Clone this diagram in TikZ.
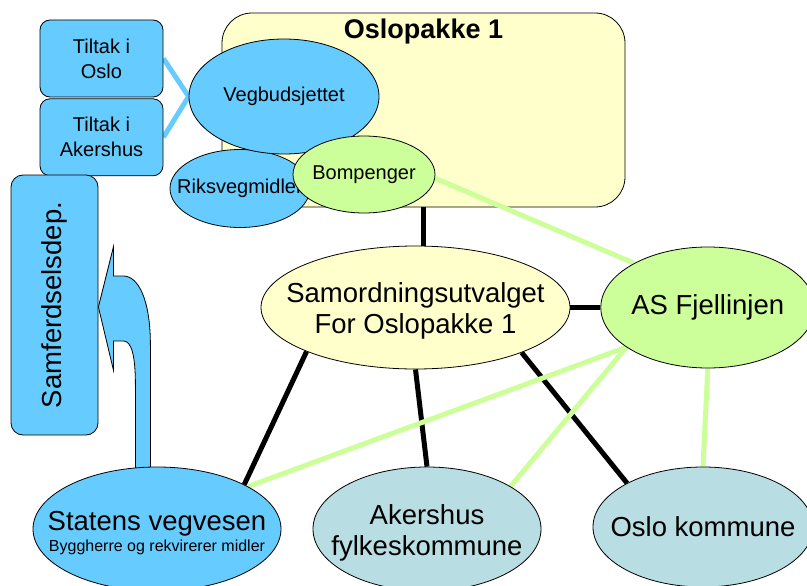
\documentclass[tikz,border=0pt]{standalone}
\usepackage{fontspec}
\setmainfont{Liberation Sans}
\usepackage{tikz}
\usetikzlibrary{positioning,shapes.geometric}

\definecolor{skyblue}{HTML}{66CCFF}
\definecolor{paleyellow}{HTML}{FFFFCC}
\definecolor{palegreen}{HTML}{CCFF99}
\definecolor{paleteal}{HTML}{B8DEE3}

\newcommand{\bigtxt}{\fontsize{27.5}{31}\selectfont}
\newcommand{\midtxt}{\fontsize{20}{25}\selectfont}
\newcommand{\smalltxt}{\fontsize{16}{19}\selectfont}

\pgfdeclarelayer{bg}
\pgfdeclarelayer{edges}
\pgfsetlayers{bg,edges,main}

\begin{document}
\begin{tikzpicture}[x=1pt, y=-1pt]

    % Define styles
    \tikzstyle{panel} = [rectangle, draw, line width=0.8pt, fill=paleyellow, rounded corners=30pt, minimum width=403pt, minimum height=194pt]
    \tikzstyle{tiltak} = [rectangle, draw, line width=0.8pt, fill=skyblue, rounded corners=10pt, minimum width=123pt, minimum height=77pt, align=center, font=\midtxt, inner sep=0pt]
    \tikzstyle{oval} = [ellipse, draw, line width=0.8pt, inner sep=0pt]
    \tikzstyle{ovaltext} = [inner sep=0pt, align=center, font=\bigtxt]
    \tikzstyle{smalltext} = [inner sep=0pt, font=\midtxt]
    \tikzstyle{tie} = [line width=5pt, black]
    \tikzstyle{money} = [line width=5pt, palegreen]
    \tikzstyle{feed} = [line width=5pt, skyblue]
    \tikzstyle{liftarrow} = [draw, line width=0.8pt, fill=skyblue]

    \useasboundingbox (0,0) rectangle (807,586);

    % Oslopakke 1
    \begin{pgfonlayer}{bg}
    \node [panel] (pakke) at (423.5,110) {};
    \end{pgfonlayer}
    \node [font=\bfseries\fontsize{27}{31}\selectfont, inner sep=0pt, below=6pt of pakke.north] (pakketitle) {Oslopakke 1};

    % Tiltak
    \node [tiltak] (tiltakoslo) at (101.5,58.5) {Tiltak i\\Oslo};
    \node [tiltak, below=1pt of tiltakoslo] (tiltakakers) {Tiltak i\\Akershus};

    % Funding
    \node [oval, fill=skyblue, minimum width=140pt, minimum height=78pt, label={[smalltext]center:Riksvegmidler}] (riks) at (240,188.5) {};
    \node [oval, fill=skyblue, minimum width=190pt, minimum height=115pt, label={[smalltext]center:Vegbudsjettet}] (vegbud) at (284,96.5) {};
    \node [oval, fill=palegreen, minimum width=142pt, minimum height=77pt, label={[smalltext]center:Bompenger}] (bomp) at (364,174.5) {};

    % Ministry
    \node [rectangle, draw, line width=0.8pt, fill=skyblue, rounded corners=12pt, rotate=90, minimum width=260pt, minimum height=87pt, font=\bigtxt] (samf) at (54.5,305) {Samferdselsdep.};

    % Coordination
    \node [oval, fill=paleyellow, minimum width=309pt, minimum height=123pt, label={[ovaltext, yshift=-3pt]center:{Samordningsutvalget\\For Oslopakke 1}}] (samord) at (415.5,307.5) {};
    \node [oval, fill=palegreen, minimum width=214pt, minimum height=121pt, right=30pt of samord, label={[ovaltext]center:AS Fjellinjen}] (fjell) {};

    % Owners
    \node [oval, fill=skyblue, minimum width=248pt, minimum height=124pt, label={[ovaltext, yshift=-4pt]center:{Statens vegvesen\\[-10pt]\smalltxt Byggherre og rekvirerer midler}}] (statens) at (157,529) {};
    \node [oval, fill=paleteal, minimum width=228pt, minimum height=124pt, label={[ovaltext, yshift=-4pt]center:{Akershus\\fylkeskommune}}] (akers) at (427,529) {};
    \node [oval, fill=paleteal, minimum width=220pt, minimum height=120pt, label={[ovaltext]center:Oslo kommune}] (oslo) at (703,527) {};

    % Links
    \begin{pgfonlayer}{edges}
    \draw [feed] (tiltakoslo.east) -- (vegbud.west);
    \draw [feed] (tiltakakers.east) -- (vegbud.west);
    \draw [tie] (pakke.south) -- (pakke.south |- samord.north);
    \draw [tie] (samord) -- (fjell);
    \draw [tie] (samord.202) -- (statens.27);
    \draw [tie] (samord.south) -- (akers.north);
    \draw [tie] (samord.337) -- (oslo.150);
    \draw [money] (bomp.357) -- (fjell.149);
    \draw [money] (fjell.206) -- (statens.25);
    \draw [money] (fjell.206) -- (akers.27);
    \draw [money] (fjell.south) -- (oslo.north);
    \draw [liftarrow, shift={(samf.south)}] (0,2) -- (15,-58) -- (15,-29) -- (25,-29)
        .. controls (40,-29) and (52,-5) .. (52,40) -- (52,175) -- (37,175) -- (37,80)
        .. controls (37,50) and (33,36) .. (25,36) -- (15,36) -- (15,65) -- cycle;
    \end{pgfonlayer}

\end{tikzpicture}
\end{document}
